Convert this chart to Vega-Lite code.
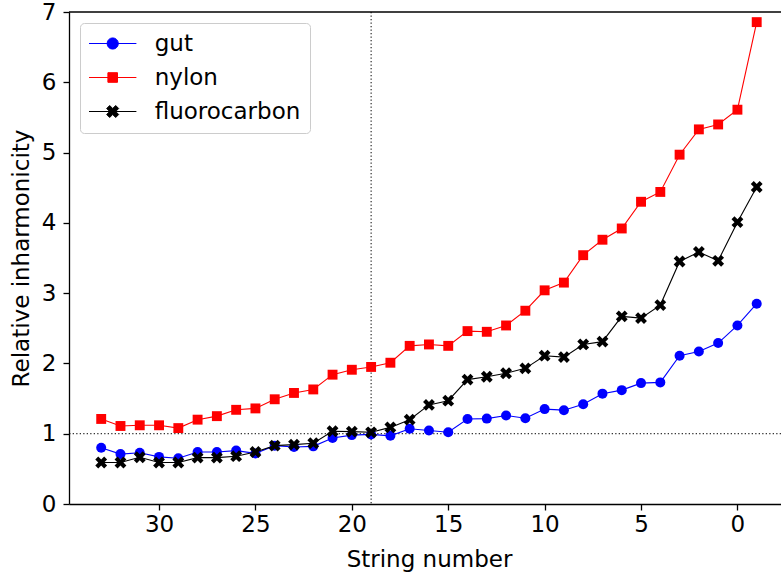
{
  "$schema": "https://vega.github.io/schema/vega-lite/v6.json",
  "width": 712,
  "height": 492,
  "autosize": {"type": "none"},
  "padding": {"left": 69, "top": 12, "right": 0, "bottom": 72},
  "config": {
    "view": {"stroke": null},
    "font": "DejaVu Sans",
    "axis": {
      "grid": false,
      "labelFont": "DejaVu Sans",
      "titleFont": "DejaVu Sans",
      "labelFontSize": 23,
      "titleFontSize": 23,
      "titleFontWeight": "normal",
      "labelColor": "#000000",
      "titleColor": "#000000",
      "tickColor": "#000000",
      "domainColor": "#000000",
      "tickSize": 6,
      "tickWidth": 1.3,
      "domainWidth": 1.3,
      "labelFlush": false,
      "labelOverlap": false
    }
  },
  "layer": [
    {
      "data": {"values": [{}]},
      "mark": {"type": "rule", "strokeDash": [1.3, 2.2], "strokeWidth": 1, "color": "#000000"},
      "encoding": {"x": {"datum": 19, "type": "quantitative", "scale": {"domain": [-2.26, 34.67], "reverse": true, "nice": false, "zero": false}}}
    },
    {
      "data": {"values": [{}]},
      "mark": {"type": "rule", "strokeDash": [1.3, 2.2], "strokeWidth": 1, "color": "#000000"},
      "encoding": {"y": {"datum": 1, "type": "quantitative", "scale": {"domain": [0, 7], "nice": false}}}
    },
    {
      "data": {"values": [{}]},
      "mark": {"type": "rule", "strokeWidth": 1.3, "color": "#000000"},
      "encoding": {"y": {"datum": 7, "type": "quantitative", "scale": {"domain": [0, 7], "nice": false}}}
    },
    {
      "data": {"values": [
        {"n": 33, "gut": 0.80, "nylon": 1.21, "fluorocarbon": 0.59},
        {"n": 32, "gut": 0.71, "nylon": 1.11, "fluorocarbon": 0.59},
        {"n": 31, "gut": 0.73, "nylon": 1.12, "fluorocarbon": 0.665},
        {"n": 30, "gut": 0.67, "nylon": 1.12, "fluorocarbon": 0.59},
        {"n": 29, "gut": 0.65, "nylon": 1.08, "fluorocarbon": 0.59},
        {"n": 28, "gut": 0.74, "nylon": 1.20, "fluorocarbon": 0.66},
        {"n": 27, "gut": 0.74, "nylon": 1.25, "fluorocarbon": 0.66},
        {"n": 26, "gut": 0.76, "nylon": 1.34, "fluorocarbon": 0.68},
        {"n": 25, "gut": 0.72, "nylon": 1.36, "fluorocarbon": 0.74},
        {"n": 24, "gut": 0.83, "nylon": 1.49, "fluorocarbon": 0.83},
        {"n": 23, "gut": 0.81, "nylon": 1.58, "fluorocarbon": 0.845},
        {"n": 22, "gut": 0.82, "nylon": 1.63, "fluorocarbon": 0.865},
        {"n": 21, "gut": 0.94, "nylon": 1.84, "fluorocarbon": 1.035},
        {"n": 20, "gut": 0.98, "nylon": 1.91, "fluorocarbon": 1.03},
        {"n": 19, "gut": 0.99, "nylon": 1.95, "fluorocarbon": 1.02},
        {"n": 18, "gut": 0.97, "nylon": 2.01, "fluorocarbon": 1.09},
        {"n": 17, "gut": 1.07, "nylon": 2.25, "fluorocarbon": 1.20},
        {"n": 16, "gut": 1.045, "nylon": 2.27, "fluorocarbon": 1.41},
        {"n": 15, "gut": 1.02, "nylon": 2.25, "fluorocarbon": 1.47},
        {"n": 14, "gut": 1.21, "nylon": 2.46, "fluorocarbon": 1.77},
        {"n": 13, "gut": 1.215, "nylon": 2.45, "fluorocarbon": 1.81},
        {"n": 12, "gut": 1.26, "nylon": 2.54, "fluorocarbon": 1.86},
        {"n": 11, "gut": 1.22, "nylon": 2.75, "fluorocarbon": 1.93},
        {"n": 10, "gut": 1.35, "nylon": 3.04, "fluorocarbon": 2.11},
        {"n": 9, "gut": 1.335, "nylon": 3.15, "fluorocarbon": 2.09},
        {"n": 8, "gut": 1.42, "nylon": 3.54, "fluorocarbon": 2.27},
        {"n": 7, "gut": 1.57, "nylon": 3.76, "fluorocarbon": 2.31},
        {"n": 6, "gut": 1.62, "nylon": 3.92, "fluorocarbon": 2.67},
        {"n": 5, "gut": 1.72, "nylon": 4.30, "fluorocarbon": 2.645},
        {"n": 4, "gut": 1.73, "nylon": 4.44, "fluorocarbon": 2.83},
        {"n": 3, "gut": 2.11, "nylon": 4.97, "fluorocarbon": 3.45},
        {"n": 2, "gut": 2.17, "nylon": 5.33, "fluorocarbon": 3.585},
        {"n": 1, "gut": 2.29, "nylon": 5.40, "fluorocarbon": 3.46},
        {"n": 0, "gut": 2.54, "nylon": 5.61, "fluorocarbon": 4.01},
        {"n": -1, "gut": 2.85, "nylon": 6.856, "fluorocarbon": 4.51}
      ]},
      "transform": [{"fold": ["gut", "nylon", "fluorocarbon"], "as": ["s", "v"]}],
      "encoding": {
        "x": {
          "field": "n", "type": "quantitative",
          "scale": {"domain": [-2.26, 34.67], "reverse": true, "nice": false, "zero": false},
          "axis": {"values": [0, 5, 10, 15, 20, 25, 30], "format": "d", "title": "String number", "labelPadding": 3, "titleX": 360, "titleY": 62, "titleBaseline": "alphabetic"}
        },
        "y": {
          "field": "v", "type": "quantitative",
          "scale": {"domain": [0, 7], "nice": false},
          "axis": {"values": [0, 1, 2, 3, 4, 5, 6, 7], "format": "d", "title": "Relative inharmonicity", "labelPadding": 7, "titleX": -41, "titleY": 246, "titleBaseline": "alphabetic", "titleAngle": 270}
        },
        "color": {
          "field": "s", "type": "nominal",
          "scale": {"domain": ["gut", "nylon", "fluorocarbon"], "range": ["#0000ff", "#ff0000", "#000000"]},
          "legend": {
            "title": null,
            "orient": "top-left",
            "offset": 11,
            "labelFont": "DejaVu Sans",
            "labelFontSize": 23,
            "labelColor": "#000000",
            "labelOffset": 42.7,
            "symbolSize": 400,
            "symbolStrokeWidth": 1,
            "padding": 9,
            "rowPadding": 10,
            "fillColor": "rgba(255,255,255,0.8)",
            "strokeColor": "#cccccc",
            "cornerRadius": 4,
            "encode": {
              "symbols": {
                "update": {
                  "x": {"value": 23.7},
                  "shape": {"signal": "datum.value === 'gut' ? 'M-2.37,0L2.37,0M-0.56,0A0.56,0.56,0,1,1,0.56,0A0.56,0.56,0,1,1,-0.56,0Z' : datum.value === 'nylon' ? 'M-2.37,0L2.37,0M-0.48,-0.48L0.48,-0.48L0.48,0.48L-0.48,0.48Z' : 'M-2.37,0L2.37,0M0.3,-0.6L0.6,-0.3L0.3,0L0.6,0.3L0.3,0.6L0,0.3L-0.3,0.6L-0.6,0.3L-0.3,0L-0.6,-0.3L-0.3,-0.6L0,-0.3Z'"},
                  "fill": {"signal": "scale('color', datum.value)"},
                  "stroke": {"signal": "scale('color', datum.value)"},
                  "strokeWidth": {"value": 1},
                  "opacity": {"value": 1}
                }
              }
            }
          }
        }
      },
      "layer": [
        {"transform": [{"filter": "datum.s === 'gut'"}], "mark": {"type": "line", "strokeWidth": 1.1}},
        {"transform": [{"filter": "datum.s === 'gut'"}], "mark": {"type": "point", "shape": "circle", "filled": true, "size": 100, "opacity": 1}},
        {"transform": [{"filter": "datum.s === 'nylon'"}], "mark": {"type": "line", "strokeWidth": 1.1}},
        {"transform": [{"filter": "datum.s === 'nylon'"}], "mark": {"type": "point", "shape": "square", "filled": true, "size": 98, "opacity": 1}},
        {"transform": [{"filter": "datum.s === 'fluorocarbon'"}], "mark": {"type": "line", "strokeWidth": 1.1}},
        {"transform": [{"filter": "datum.s === 'fluorocarbon'"}], "mark": {"type": "point", "shape": "M0.5,-1L1,-0.5L0.5,0L1,0.5L0.5,1L0,0.5L-0.5,1L-1,0.5L-0.5,0L-1,-0.5L-0.5,-1L0,-0.5Z", "filled": true, "size": 140, "opacity": 1}}
      ]
    }
  ]
}
